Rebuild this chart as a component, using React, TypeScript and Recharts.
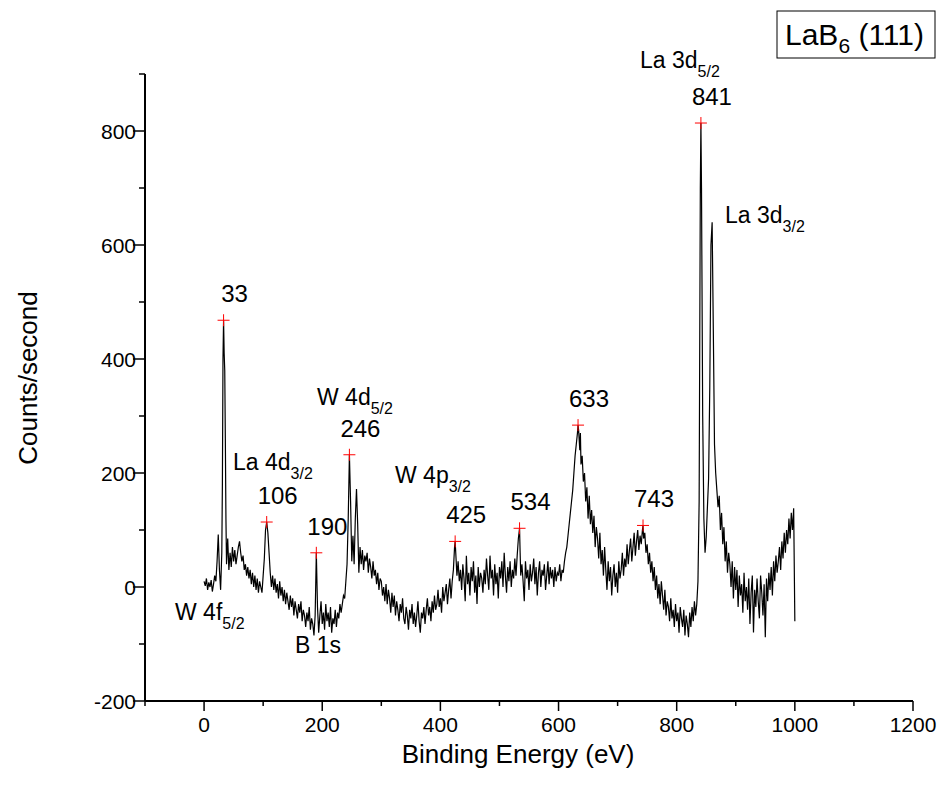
import React from 'react';
import { ComposedChart, Line, XAxis, YAxis, ReferenceDot } from 'recharts';

// XPS survey spectrum: [binding energy (eV), counts/second]
const SPECTRUM: [number, number][] = [
  [0,10],[2,2],[4,15],[6,-5],[8,8],[10,0],[12,12],[14,-8],[16,5],[18,20],
  [20,10],[22,45],[24,92],[26,30],[28,-5],[30,60],[31,180],[32,400],[33,468],[34,410],
  [35,380],[36,260],[37,120],[38,40],[40,85],[42,30],[44,60],[46,35],[48,70],[50,45],
  [52,65],[54,40],[56,55],[58,70],[60,80],[62,60],[64,45],[66,55],[68,30],[70,40],
  [72,20],[74,35],[76,15],[78,30],[80,5],[82,25],[84,0],[86,20],[88,-5],[90,15],
  [92,-10],[94,10],[96,0],[98,-10],[100,20],[102,50],[104,100],[106,114],[108,95],[110,60],
  [112,25],[114,0],[116,20],[118,-5],[120,15],[122,-10],[124,5],[126,-20],[128,10],[130,-15],
  [132,0],[134,-25],[136,-5],[138,-30],[140,-10],[142,-25],[144,-40],[146,-15],[148,-35],[150,-20],
  [152,-50],[154,-25],[156,-40],[158,-55],[160,-30],[162,-45],[164,-25],[166,-60],[168,-40],[170,-50],
  [172,-70],[174,-45],[176,-60],[178,-35],[180,-75],[182,-55],[184,-65],[186,-85],[188,-50],[190,60],
  [192,-35],[194,-80],[196,-50],[198,-25],[200,-65],[202,-45],[204,-75],[206,-30],[208,-60],[210,-45],
  [212,-70],[214,-35],[216,-80],[218,-55],[220,-65],[222,-40],[224,-70],[226,-45],[228,-55],[230,-30],
  [232,-45],[234,-30],[236,-15],[238,-20],[240,10],[242,40],[244,120],[246,232],[248,150],[250,45],
  [252,90],[254,40],[256,120],[258,172],[260,110],[262,25],[264,70],[266,40],[268,65],[270,30],
  [272,55],[274,45],[276,60],[278,25],[280,50],[282,35],[284,15],[286,45],[288,20],[290,30],
  [292,5],[294,25],[296,-5],[298,15],[300,10],[302,-15],[304,0],[306,-25],[308,5],[310,-30],
  [312,-5],[314,-20],[316,-45],[318,-10],[320,-35],[322,-15],[324,-50],[326,-25],[328,-40],[330,-60],
  [332,-30],[334,-45],[336,-20],[338,-55],[340,-65],[342,-35],[344,-50],[346,-75],[348,-40],[350,-55],
  [352,-30],[354,-65],[356,-45],[358,-70],[360,-50],[362,-25],[364,-60],[366,-80],[368,-45],[370,-55],
  [372,-35],[374,-65],[376,-40],[378,-20],[380,-50],[382,-35],[384,-60],[386,-25],[388,-45],[390,-15],
  [392,-40],[394,-30],[396,-5],[398,-35],[400,-20],[402,-45],[404,0],[406,-25],[408,-10],[410,5],
  [412,-30],[414,-5],[416,15],[418,-20],[420,10],[422,30],[424,70],[425,80],[426,60],[428,20],
  [430,45],[432,10],[434,30],[436,-5],[438,40],[440,15],[442,-25],[444,55],[446,5],[448,25],
  [450,-15],[452,35],[454,10],[456,45],[458,-10],[460,20],[462,-30],[464,35],[466,0],[468,25],
  [470,15],[472,-10],[474,30],[476,5],[478,50],[480,20],[482,-5],[484,55],[486,15],[488,30],
  [490,-15],[492,40],[494,5],[496,25],[498,-20],[500,35],[502,15],[504,45],[506,0],[508,60],
  [510,20],[512,-10],[514,35],[516,10],[518,45],[520,0],[522,30],[524,15],[526,50],[528,20],
  [530,55],[532,85],[534,103],[535,60],[536,20],[538,40],[540,10],[542,-25],[544,45],[546,15],
  [548,30],[550,-5],[552,40],[554,10],[556,25],[558,50],[560,5],[562,35],[564,-15],[566,25],
  [568,45],[570,0],[572,30],[574,20],[576,40],[578,-5],[580,20],[582,45],[584,5],[586,35],
  [588,15],[590,30],[592,0],[594,35],[596,10],[598,25],[600,20],[602,40],[604,10],[606,30],
  [608,25],[610,45],[612,60],[614,70],[616,90],[618,110],[620,130],[622,150],[624,170],[626,200],
  [628,230],[630,250],[632,270],[633,284],[634,275],[636,240],[637,270],[638,215],[640,230],[642,185],
  [644,200],[646,150],[648,175],[650,120],[652,160],[654,110],[656,135],[658,95],[660,125],[662,70],
  [664,105],[666,85],[668,50],[670,95],[672,40],[674,65],[676,20],[678,70],[680,30],[682,-5],
  [684,45],[686,10],[688,35],[690,-15],[692,20],[694,40],[696,0],[698,25],[700,-10],[702,45],
  [704,15],[706,30],[708,60],[710,20],[712,50],[714,35],[716,75],[718,40],[720,65],[722,85],
  [724,45],[726,70],[728,95],[730,55],[732,80],[734,100],[736,65],[738,90],[740,75],[742,100],
  [743,108],[744,85],[746,95],[748,60],[750,75],[752,40],[754,60],[756,25],[758,45],[760,10],
  [762,35],[764,-5],[766,20],[768,-20],[770,5],[772,-30],[774,10],[776,-15],[778,-40],[780,-5],
  [782,-50],[784,-25],[786,-35],[788,-60],[790,-20],[792,-55],[794,-40],[796,-70],[798,-30],[800,-60],
  [802,-45],[804,-80],[806,-35],[808,-55],[810,-70],[812,-40],[814,-85],[816,-50],[818,-65],[820,-88],
  [822,-45],[824,-70],[826,-35],[828,-60],[830,-25],[832,-50],[834,-30],[836,10],[838,150],[840,700],
  [841,814],[842,700],[844,300],[846,120],[848,60],[850,88],[852,140],[854,190],[856,350],[858,600],
  [860,640],[862,450],[864,250],[866,200],[868,170],[870,140],[872,160],[874,100],[876,130],[878,75],
  [880,105],[882,45],[884,80],[886,25],[888,60],[890,40],[892,0],[894,45],[896,-20],[898,35],
  [900,-5],[902,30],[904,-35],[906,20],[908,-15],[910,5],[912,-45],[914,25],[916,-25],[918,0],
  [920,-40],[922,15],[924,-65],[926,-10],[928,20],[930,-80],[932,-5],[934,-35],[936,15],[938,-25],
  [940,-55],[942,20],[944,-10],[946,-50],[948,5],[950,-88],[952,15],[954,-25],[956,25],[958,-5],
  [960,35],[962,-15],[964,45],[966,10],[968,55],[970,25],[972,45],[974,70],[976,30],[978,80],
  [980,50],[982,95],[984,60],[986,100],[988,75],[990,120],[992,85],[994,130],[996,100],[998,138],
  [1000,-60],
];

const PEAK_ENERGIES = [33, 106, 190, 246, 425, 534, 633, 743, 841];
const PEAK_COUNTS = [468, 114, 60, 232, 80, 103, 284, 108, 814];

const X_TICKS = [-100, 0, 100, 200, 300, 400, 500, 600, 700, 800, 900, 1000, 1100, 1200];
const Y_TICKS = [-200, -100, 0, 100, 200, 300, 400, 500, 600, 700, 800, 900];

const FONT = '"Liberation Sans", Arial, sans-serif';

const data = SPECTRUM.map(([e, c]) => ({ e, c }));

const XTick = (props: any) => {
  const { x, y, payload } = props;
  const major = payload.value % 200 === 0;
  return (
    <g>
      <line x1={x} x2={x} y1={y} y2={y + (major ? 10 : 5)} stroke="#000" strokeWidth={1.5} />
      {major && (
        <text x={x} y={y + 31} textAnchor="middle" fontSize={21} fontFamily={FONT} fill="#000">
          {payload.value}
        </text>
      )}
    </g>
  );
};

const YTick = (props: any) => {
  const { x, y, payload } = props;
  const major = payload.value % 200 === 0;
  return (
    <g>
      <line x1={x - (major ? 12 : 6)} x2={x} y1={y} y2={y} stroke="#000" strokeWidth={1.5} />
      {major && (
        <text x={x - 9} y={y + 8} textAnchor="end" fontSize={21} fontFamily={FONT} fill="#000">
          {payload.value}
        </text>
      )}
    </g>
  );
};

const PeakMark = (props: any) => {
  const { cx, cy, label } = props;
  return (
    <g>
      <line x1={cx - 6} x2={cx + 6} y1={cy} y2={cy} stroke="#ff0000" strokeWidth={1} />
      <line x1={cx} x2={cx} y1={cy - 6} y2={cy + 6} stroke="#ff0000" strokeWidth={1} />
      <text x={cx + 11} y={cy - 18} textAnchor="middle" fontSize={24} fontFamily={FONT} fill="#000">
        {label}
      </text>
    </g>
  );
};

const Sub = ({ x, y, main, sub }: { x: number; y: number; main: string; sub: string }) => (
  <text x={x} y={y} fontSize={23} fontFamily={FONT} fill="#000">
    {main}
    <tspan fontSize={16} dy={9}>{sub}</tspan>
  </text>
);

export default function App() {
  return (
    <div style={{ position: 'absolute', left: 0, top: 0, width: 948, height: 797, background: '#fff' }}>
      <ComposedChart
        width={948}
        height={797}
        data={data}
        margin={{ top: 74, right: 35, bottom: 36, left: 80 }}
      >
        <XAxis
          dataKey="e"
          type="number"
          domain={[-100, 1200]}
          ticks={X_TICKS}
          interval={0}
          allowDataOverflow
          height={60}
          tickSize={0}
          tickMargin={0}
          tickLine={false}
          axisLine={{ stroke: '#000', strokeWidth: 2 }}
          tick={<XTick />}
        />
        <YAxis
          type="number"
          domain={[-200, 900]}
          ticks={Y_TICKS}
          interval={0}
          allowDataOverflow
          width={65}
          tickSize={0}
          tickMargin={0}
          tickLine={false}
          axisLine={{ stroke: '#000', strokeWidth: 2 }}
          tick={<YTick />}
        />
        <Line
          dataKey="c"
          type="linear"
          stroke="#000"
          strokeWidth={1.2}
          dot={false}
          isAnimationActive={false}
        />
        {PEAK_ENERGIES.map((e, i) => (
          <ReferenceDot
            key={e}
            x={e}
            y={PEAK_COUNTS[i]}
            r={6}
            ifOverflow="visible"
            shape={(p: any) => <PeakMark {...p} label={String(e)} />}
          />
        ))}
      </ComposedChart>
      <svg
        width={948}
        height={797}
        style={{ position: 'absolute', left: 0, top: 0, pointerEvents: 'none' }}
      >
        <text
          x={28}
          y={378}
          transform="rotate(-90 28 378)"
          textAnchor="middle"
          dominantBaseline="central"
          fontSize={26}
          fontFamily={FONT}
          fill="#000"
        >
          Counts/second
        </text>
        <text x={518} y={763} textAnchor="middle" fontSize={26} fontFamily={FONT} fill="#000">
          Binding Energy (eV)
        </text>
        <Sub x={640} y={68} main="La 3d" sub="5/2" />
        <Sub x={725} y={223} main="La 3d" sub="3/2" />
        <Sub x={317} y={405} main="W 4d" sub="5/2" />
        <Sub x={233} y={470} main="La 4d" sub="3/2" />
        <Sub x={395} y={483} main="W 4p" sub="3/2" />
        <Sub x={175} y={620} main="W 4f" sub="5/2" />
        <text x={295} y={653} fontSize={23} fontFamily={FONT} fill="#000">B 1s</text>
        <rect x={777} y={11} width={158} height={47} fill="#fff" stroke="#000" strokeWidth={1} />
        <text x={785} y={45} fontSize={30} fontFamily={FONT} fill="#000">
          LaB<tspan fontSize={21} dy={8}>6</tspan>
          <tspan dy={-8}> (111)</tspan>
        </text>
      </svg>
    </div>
  );
}
